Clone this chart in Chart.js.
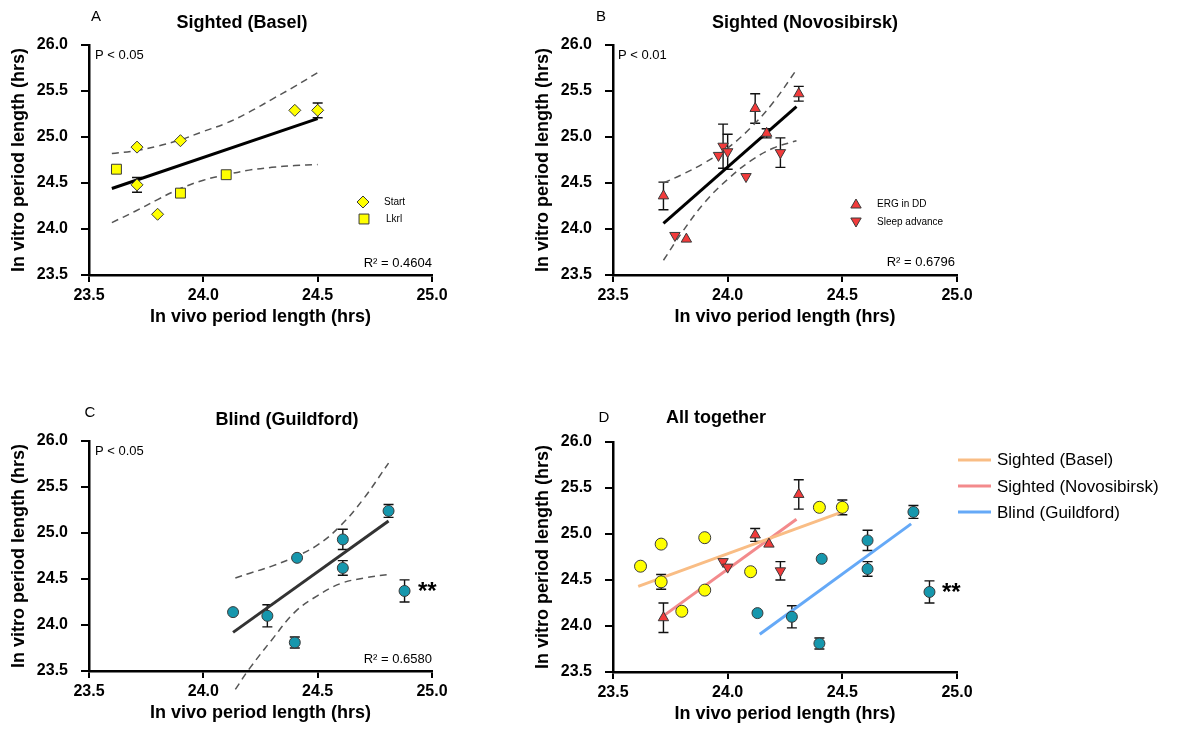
<!DOCTYPE html>
<html>
<head>
<meta charset="utf-8">
<script src="https://cdn.jsdelivr.net/npm/chart.js@4.4.0/dist/chart.umd.min.js"></script>
<style>
html, body { margin: 0; padding: 0; background: #fff; }
#wrap { position: relative; width: 1177px; height: 733px; }
canvas { position: absolute; left: 0; top: 0; }
</style>
</head>
<body>
<div id="wrap">
  <canvas id="pA" width="1177" height="733"></canvas>
  <canvas id="pB" width="1177" height="733"></canvas>
  <canvas id="pC" width="1177" height="733"></canvas>
  <canvas id="pD" width="1177" height="733"></canvas>
</div>
<script>
// axis ticks (hrs)
const xTicks = [23.5, 24.0, 24.5, 25.0];
const yTicks = [23.5, 24.0, 24.5, 25.0, 25.5, 26.0];

// A - Sighted (Basel)
const startX = [23.71, 23.71, 23.80, 23.90, 24.40, 24.50];
const startY = [24.89, 24.48, 24.16, 24.96, 25.29, 25.29];
const startErr = [0, 0.08, 0, 0, 0, 0.08];
const lkrlX = [23.62, 23.90, 24.10];
const lkrlY = [24.65, 24.39, 24.59];
const baselFitX = [23.60, 24.50];
const baselFitY = [24.44, 25.20];
const baselBandX = [23.60, 23.70, 23.80, 23.90, 24.00, 24.10, 24.20, 24.30, 24.40, 24.50];
const baselUpper = [24.82, 24.85, 24.90, 24.97, 25.06, 25.15, 25.27, 25.41, 25.55, 25.70];
const baselLower = [24.07, 24.19, 24.32, 24.44, 24.53, 24.59, 24.64, 24.67, 24.69, 24.70];

// B - Sighted (Novosibirsk)
const ergX = [23.72, 23.82, 24.12, 24.17, 24.31];
const ergY = [24.36, 23.89, 25.31, 25.04, 25.47];
const ergErr = [0.15, 0, 0.16, 0.05, 0.08];
const sleepX = [23.77, 23.96, 23.98, 24.00, 24.08, 24.23];
const sleepY = [23.93, 24.80, 24.90, 24.84, 24.57, 24.83];
const sleepErr = [0, 0, 0.24, 0.19, 0, 0.16];
const novoFitX = [23.72, 24.30];
const novoFitY = [24.06, 25.33];
const novoBandX = [23.72, 23.80, 23.90, 24.00, 24.10, 24.20, 24.30];
const novoUpper = [24.50, 24.59, 24.72, 24.88, 25.10, 25.38, 25.73];
const novoLower = [23.66, 23.96, 24.29, 24.54, 24.74, 24.88, 24.96];

// C - Blind (Guildford)
const blindX = [24.13, 24.28, 24.40, 24.41, 24.61, 24.61, 24.81, 24.88];
const blindY = [24.14, 24.10, 23.81, 24.73, 24.93, 24.62, 25.24, 24.37];
const blindErr = [0, 0.12, 0.06, 0, 0.11, 0.08, 0.07, 0.12];
const blindFitX = [24.13, 24.81];
const blindFitY = [23.92, 25.13];
const blindBandX = [24.14, 24.20, 24.30, 24.40, 24.50, 24.60, 24.70, 24.81];
const blindUpper = [24.51, 24.56, 24.64, 24.74, 24.87, 25.08, 25.37, 25.76];
const blindLower = [23.30, 23.52, 23.84, 24.14, 24.32, 24.45, 24.51, 24.55];

// D - All together (Novosibirsk subset differs from B)
const allErgX = [23.72, 24.12, 24.18, 24.31];
const allErgY = [24.09, 24.99, 24.89, 25.43];
const allErgErr = [0.16, 0.07, 0, 0.16];
const allSleepX = [23.98, 24.00, 24.23];
const allSleepY = [24.70, 24.64, 24.60];
const allSleepErr = [0, 0, 0.10];
const allBaselFitX = [23.61, 24.50];
const allBaselFitY = [24.43, 25.24];
const allNovoFitX = [23.72, 24.30];
const allNovoFitY = [24.11, 25.16];
const allBlindFitX = [24.14, 24.80];
const allBlindFitY = [23.91, 25.11];
const groupNames = ["Sighted (Basel)", "Sighted (Novosibirsk)", "Blind (Guildford)"];

const FONT = "'Liberation Sans', Arial, sans-serif";
const YELLOW = '#ffff00', RED = '#f23b3b', TEAL = '#1697ad', EDGE = '#3a3a3a';
const ORANGE = '#f9bd85', PINK = '#f38a8c', BLUE = '#65a9f7';

function pts(xs, ys) {
  return xs.map((x, i) => ({ x: x, y: ys[i] }));
}

function markers(xs, ys, errs, style, color, radius, rot) {
  return {
    data: pts(xs, ys), errors: errs,
    pointStyle: style, pointRotation: rot || 0, pointRadius: radius,
    pointBackgroundColor: color, pointBorderColor: EDGE, pointBorderWidth: 1
  };
}

function line(xs, ys, color, width, dash) {
  return {
    data: pts(xs, ys), showLine: true, pointRadius: 0,
    borderColor: color, borderWidth: width, borderDash: dash || [],
    tension: dash ? 0.4 : 0, clip: false
  };
}

// draws vertical error bars below the markers
const errorBars = {
  id: 'errorBars',
  beforeDatasetsDraw(chart) {
    const { ctx, scales: { x, y } } = chart;
    ctx.save();
    ctx.strokeStyle = '#111';
    ctx.lineWidth = 1.4;
    chart.data.datasets.forEach(ds => {
      if (!ds.errors) return;
      ds.data.forEach((p, i) => {
        const e = ds.errors[i];
        if (!e) return;
        const px = x.getPixelForValue(p.x);
        const top = y.getPixelForValue(p.y + e);
        const bot = y.getPixelForValue(p.y - e);
        ctx.beginPath();
        ctx.moveTo(px, top); ctx.lineTo(px, bot);
        ctx.moveTo(px - 5, top); ctx.lineTo(px + 5, top);
        ctx.moveTo(px - 5, bot); ctx.lineTo(px + 5, bot);
        ctx.stroke();
      });
    });
    ctx.restore();
  }
};

function drawKey(ctx, k) {
  ctx.save();
  ctx.fillStyle = k.color;
  ctx.strokeStyle = EDGE;
  ctx.lineWidth = 1;
  const r = k.r, x = k.x, y = k.y;
  ctx.beginPath();
  if (k.style === 'rectRot') {
    ctx.moveTo(x, y - r); ctx.lineTo(x + r, y); ctx.lineTo(x, y + r); ctx.lineTo(x - r, y);
  } else if (k.style === 'rect') {
    const s = r * Math.SQRT1_2;
    ctx.rect(x - s, y - s, 2 * s, 2 * s);
  } else if (k.style === 'triangle') {
    const d = k.down ? -1 : 1;
    ctx.moveTo(x, y - d * r);
    ctx.lineTo(x + 0.866 * r, y + d * 0.5 * r);
    ctx.lineTo(x - 0.866 * r, y + d * 0.5 * r);
  } else if (k.style === 'line') {
    ctx.strokeStyle = k.color; ctx.lineWidth = 3;
    ctx.moveTo(x, y); ctx.lineTo(x + 33, y);
    ctx.stroke();
    ctx.restore();
    return;
  }
  ctx.closePath();
  ctx.fill();
  ctx.stroke();
  ctx.restore();
}

// free text and little keys, page coordinates
const notesPlugin = {
  id: 'notes',
  afterDraw(chart, args, opts) {
    const ctx = chart.ctx;
    (opts.keys || []).forEach(k => drawKey(ctx, k));
    (opts.items || []).forEach(n => {
      ctx.save();
      ctx.font = n.font;
      ctx.fillStyle = '#000';
      ctx.textAlign = n.align || 'left';
      ctx.textBaseline = 'middle';
      ctx.fillText(n.text, n.x, n.y);
      ctx.restore();
    });
  }
};

function panel(id, box, datasets, items, keys) {
  const tickFont = { family: FONT, size: 16, weight: 'bold' };
  const titleFont = { family: FONT, size: 18, weight: 'bold' };
  return new Chart(document.getElementById(id), {
    type: 'scatter',
    data: { datasets: datasets },
    options: {
      responsive: false,
      animation: false,
      events: [],
      layout: { padding: { left: box.left - 90, top: box.top, right: 1177 - box.right, bottom: 733 - box.bottom - 60 } },
      plugins: {
        legend: { display: false },
        tooltip: { enabled: false },
        notes: { items: items, keys: keys }
      },
      scales: {
        x: {
          type: 'linear', min: xTicks[0], max: xTicks[xTicks.length - 1],
          afterBuildTicks: s => { s.ticks = xTicks.map(v => ({ value: v })); },
          ticks: { font: tickFont, color: '#000', padding: 4, maxRotation: 0, callback: v => v.toFixed(1) },
          grid: { drawOnChartArea: false, tickLength: 7, color: '#000', lineWidth: 2 },
          border: { color: '#000', width: 2.5 },
          title: { display: true, text: 'In vivo period length (hrs)', font: titleFont, color: '#000', padding: { top: 0, bottom: 7 } },
          afterFit: s => { s.height = 60; }
        },
        y: {
          type: 'linear', min: yTicks[0], max: yTicks[yTicks.length - 1],
          afterBuildTicks: s => { s.ticks = yTicks.map(v => ({ value: v })); },
          ticks: { font: tickFont, color: '#000', padding: 13, callback: v => v.toFixed(1) },
          grid: { drawOnChartArea: false, tickLength: 8, color: '#000', lineWidth: 2 },
          border: { color: '#000', width: 2.5 },
          title: { display: true, text: 'In vitro period length (hrs)', font: titleFont, color: '#000', padding: { top: 9, bottom: 0 } },
          afterFit: s => { s.width = 90; }
        }
      }
    },
    plugins: [errorBars, notesPlugin]
  });
}

const letterFont = '15px ' + FONT;
const headFont = 'bold 18px ' + FONT;
const smallFont = '13px ' + FONT;
const keyFont = '10px ' + FONT;
const legendFont = '17px ' + FONT;

panel('pA', { left: 89, top: 45, right: 432, bottom: 275 }, [
  markers(startX, startY, startErr, 'rectRot', YELLOW, 6),
  markers(lkrlX, lkrlY, null, 'rect', YELLOW, 7),
  line(baselFitX, baselFitY, '#000', 3),
  line(baselBandX, baselUpper, '#555', 1.5, [7, 5]),
  line(baselBandX, baselLower, '#555', 1.5, [7, 5])
], [
  { text: 'A', x: 96, y: 17, font: letterFont, align: 'center' },
  { text: 'Sighted (Basel)', x: 242, y: 23, font: headFont, align: 'center' },
  { text: 'P < 0.05', x: 95, y: 55, font: smallFont },
  { text: 'R\u00b2 = 0.4604', x: 432, y: 263, font: smallFont, align: 'right' },
  { text: 'Start', x: 384, y: 202, font: keyFont },
  { text: 'Lkrl', x: 386, y: 219, font: keyFont }
], [
  { style: 'rectRot', x: 363, y: 202, r: 6, color: YELLOW },
  { style: 'rect', x: 364, y: 219, r: 7, color: YELLOW }
]);

panel('pB', { left: 613, top: 45, right: 957, bottom: 275 }, [
  markers(ergX, ergY, ergErr, 'triangle', RED, 6),
  markers(sleepX, sleepY, sleepErr, 'triangle', RED, 6, 180),
  line(novoFitX, novoFitY, '#000', 3),
  line(novoBandX, novoUpper, '#555', 1.5, [7, 5]),
  line(novoBandX, novoLower, '#555', 1.5, [7, 5])
], [
  { text: 'B', x: 601, y: 17, font: letterFont, align: 'center' },
  { text: 'Sighted (Novosibirsk)', x: 805, y: 23, font: headFont, align: 'center' },
  { text: 'P < 0.01', x: 618, y: 55, font: smallFont },
  { text: 'R\u00b2 = 0.6796', x: 955, y: 262, font: smallFont, align: 'right' },
  { text: 'ERG in DD', x: 877, y: 204, font: keyFont },
  { text: 'Sleep advance', x: 877, y: 222, font: keyFont }
], [
  { style: 'triangle', x: 856, y: 205, r: 6, color: RED },
  { style: 'triangle', x: 856, y: 221, r: 6, color: RED, down: true }
]);

panel('pC', { left: 89, top: 441, right: 432, bottom: 671 }, [
  markers(blindX, blindY, blindErr, 'circle', TEAL, 5.5),
  line(blindFitX, blindFitY, '#333', 3),
  line(blindBandX, blindUpper, '#555', 1.5, [7, 5]),
  line(blindBandX, blindLower, '#555', 1.5, [7, 5])
], [
  { text: 'C', x: 90, y: 413, font: letterFont, align: 'center' },
  { text: 'Blind (Guildford)', x: 287, y: 420, font: headFont, align: 'center' },
  { text: 'P < 0.05', x: 95, y: 451, font: smallFont },
  { text: 'R\u00b2 = 0.6580', x: 432, y: 659, font: smallFont, align: 'right' },
  { text: '**', x: 418, y: 592, font: 'bold 24px ' + FONT }
], []);

panel('pD', { left: 613, top: 442, right: 957, bottom: 672 }, [
  markers(startX.concat(lkrlX), startY.concat(lkrlY), startErr.concat([0, 0, 0]), 'circle', YELLOW, 6),
  markers(allErgX, allErgY, allErgErr, 'triangle', RED, 6),
  markers(allSleepX, allSleepY, allSleepErr, 'triangle', RED, 6, 180),
  markers(blindX, blindY, blindErr, 'circle', TEAL, 5.5),
  line(allBaselFitX, allBaselFitY, ORANGE, 3),
  line(allNovoFitX, allNovoFitY, PINK, 3),
  line(allBlindFitX, allBlindFitY, BLUE, 3)
], [
  { text: 'D', x: 604, y: 418, font: letterFont, align: 'center' },
  { text: 'All together', x: 716, y: 418, font: headFont, align: 'center' },
  { text: groupNames[0], x: 997, y: 460, font: legendFont },
  { text: groupNames[1], x: 997, y: 487, font: legendFont },
  { text: groupNames[2], x: 997, y: 513, font: legendFont },
  { text: '**', x: 942, y: 593, font: 'bold 24px ' + FONT }
], [
  { style: 'line', x: 958, y: 460, color: ORANGE },
  { style: 'line', x: 958, y: 486, color: PINK },
  { style: 'line', x: 958, y: 512, color: BLUE }
]);
</script>
</body>
</html>
